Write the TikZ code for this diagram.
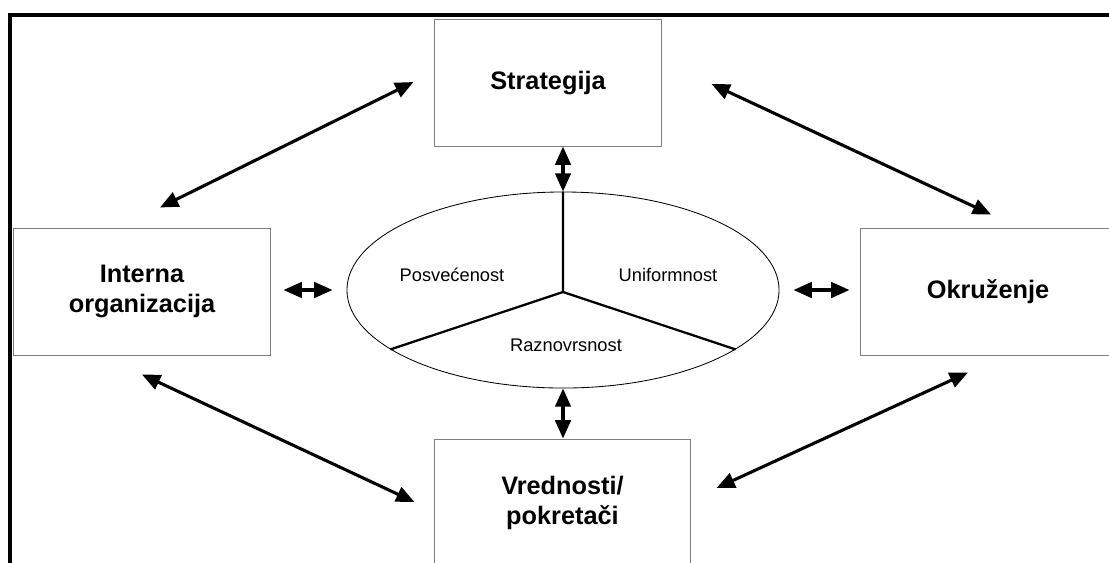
\documentclass[tikz,border=0pt]{standalone}
\usepackage{fontspec}
\setmainfont{Liberation Sans}
\usetikzlibrary{shapes.geometric,arrows.meta,calc,positioning}

\tikzset{
  box/.style={draw=gray, line width=0.7pt, rectangle, align=center, inner sep=0pt,
    font=\fontsize{18}{21}\selectfont\bfseries},
  part/.style={font=\fontsize{13}{15}\selectfont},
  link/.style={line width=2.2pt, {Triangle[length=13pt,width=11pt]}-{Triangle[length=13pt,width=11pt]}},
}

\begin{document}
\begin{tikzpicture}[x=0.025cm, y=-0.025cm]
\useasboundingbox (0,0) rectangle (1109,562);
\draw[line width=3.2pt] (10,600) -- (10,15) -- (1140,15);

\node[box, minimum width=5.65cm, minimum height=3.15cm] (strat) at (548,83) {Strategija};
\node[box, minimum width=6.4cm, minimum height=3.175cm] (intern) at (142,291.5) {Interna\\organizacija};
\node[box, minimum width=6.35cm, minimum height=3.175cm] (env) at (988,291.5) {Okruženje};
\node[box, minimum width=6.375cm, minimum height=3.2cm] (vals) at (562.5,503) {Vrednosti/\\pokretači};

% central ellipse split in three parts
\node[ellipse, draw, line width=0.6pt, minimum width=10.8cm, minimum height=4.9cm, inner sep=0pt] (core) at (563,290) {};
\coordinate (hub) at (563,292);
\draw[line width=1.6pt] (core.north -| hub) -- (hub) -- (core.199) (hub) -- (core.341);
\node[part] (devotion) at (452,275) {Posvećenost};
\node[part] (uniform) at (668,275) {Uniformnost};
\node[part] (variety) at (566,345) {Raznovrsnost};

\draw[link] (strat.south -| hub) -- (core.north -| hub);
\draw[link] (core.south -| hub) -- (vals.north -| hub);
\draw[link] ($(intern.east |- core.west)+(13,0)$) -- ($(core.west)+(-14,0)$);
\draw[link] ($(core.east)+(14,0)$) -- ($(env.west |- core.east)+(-11,0)$);
\draw[link] ($(intern.north)+(18,-20)$) -- ($(strat.west)+(-21,-1)$);
\draw[link] ($(strat.east)+(50,1)$) -- ($(env.north)+(3,-13)$);
\draw[link] ($(intern.south)+(0,19)$) -- ($(vals.west)+(-20,-1)$);
\draw[link] ($(env.south)+(-20,17)$) -- ($(vals.east)+(26,-15)$);
\end{tikzpicture}
\end{document}
